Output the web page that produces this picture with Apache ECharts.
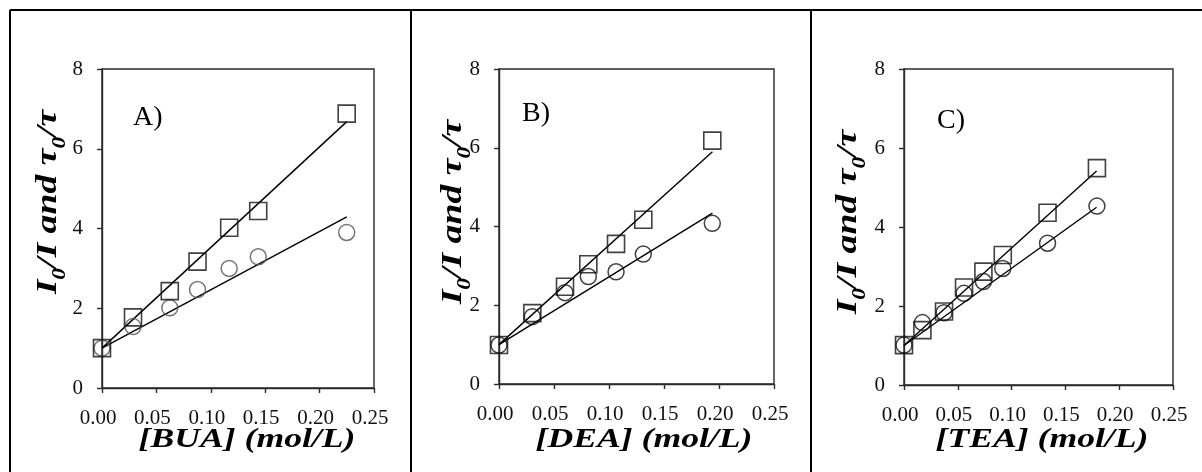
<!DOCTYPE html>
<html>
<head>
<meta charset="utf-8">
<script src="https://cdn.jsdelivr.net/npm/echarts@6/dist/echarts.min.js"></script>
<style>
  html, body { margin: 0; padding: 0; background: #fff; }
  #chart { width: 1202px; height: 472px; }
</style>
</head>
<body>
<div id="chart"></div>
<script>
// Stern–Volmer plots: I0/I (squares) and tau0/tau (circles) versus amine concentration

// Panel A: BUA
const buaConc      = [0, 0.0285, 0.0623, 0.0878, 0.1169, 0.1436, 0.2249];
const buaIntensity = [1.00, 1.77, 2.43, 3.17, 4.02, 4.44, 6.88];
const buaLifetime  = [1.00, 1.54, 2.01, 2.47, 3.00, 3.29, 3.90];
const buaFitIntensity = [[0, 1.0], [0.225, 6.68]];
const buaFitLifetime  = [[0, 1.0], [0.225, 4.29]];

// Panel B: DEA
const deaConc      = [0, 0.0303, 0.0600, 0.0812, 0.1064, 0.1312, 0.1939];
const deaIntensity = [0.99, 1.80, 2.47, 3.04, 3.56, 4.17, 6.18];
const deaLifetime  = [0.99, 1.71, 2.32, 2.73, 2.85, 3.30, 4.08];
const deaFitIntensity = [[0, 1.0], [0.194, 5.90]];
const deaFitLifetime  = [[0, 1.0], [0.194, 4.34]];

// Panel C: TEA
const teaConc      = [0, 0.0171, 0.0372, 0.0558, 0.0738, 0.0918, 0.1334, 0.1793];
const teaIntensity = [1.01, 1.39, 1.86, 2.47, 2.87, 3.29, 4.36, 5.49];
const teaLifetime  = [1.01, 1.58, 1.83, 2.32, 2.62, 2.95, 3.59, 4.53];
const teaFitIntensity = [[0, 1.0], [0.179, 5.42]];
const teaFitLifetime  = [[0, 1.0], [0.179, 4.50]];

const panelLetters = ['A)', 'B)', 'C)'];
const xTitles = ['[BUA] (mol/L)', '[DEA] (mol/L)', '[TEA] (mol/L)'];
const xTicks = { min: 0, max: 0.25, step: 0.05 };
const yTicks = { min: 0, max: 8, step: 2 };

const SERIF = '"Liberation Serif", "Times New Roman", serif';
const AXIS_COLOR = '#2a2a2a';

const panels = [
  { conc: buaConc, sq: buaIntensity, ci: buaLifetime, fitSq: buaFitIntensity, fitCi: buaFitLifetime,
    grid: { left: 102, top: 69, width: 272, height: 319 }, circleColor: '#555',
    letter: [133, 118], yTitle: [49, 202], xTitle: [247, 440] },
  { conc: deaConc, sq: deaIntensity, ci: deaLifetime, fitSq: deaFitIntensity, fitCi: deaFitLifetime,
    grid: { left: 499, top: 69, width: 275, height: 315 }, circleColor: '#111',
    letter: [522, 114], yTitle: [454, 212], xTitle: [644, 440] },
  { conc: teaConc, sq: teaIntensity, ci: teaLifetime, fitSq: teaFitIntensity, fitCi: teaFitLifetime,
    grid: { left: 904, top: 69, width: 269, height: 316 }, circleColor: '#111',
    letter: [937, 121], yTitle: [849, 222], xTitle: [1042, 440] }
];

const grids = [], xAxes = [], yAxes = [], series = [], graphics = [];

panels.forEach((p, i) => {
  grids.push(Object.assign({ show: true, borderColor: AXIS_COLOR, borderWidth: 1.4, backgroundColor: 'transparent' }, p.grid));

  xAxes.push({
    gridIndex: i, type: 'value', min: xTicks.min, max: xTicks.max, interval: xTicks.step,
    axisLine: { show: true, onZero: false, lineStyle: { color: AXIS_COLOR, width: 1.4 } },
    axisTick: { show: true, length: 5, lineStyle: { color: AXIS_COLOR, width: 1.4 } },
    splitLine: { show: false },
    axisLabel: {
      formatter: v => v.toFixed(2), fontFamily: SERIF, fontSize: 21, color: '#111',
      margin: 20, padding: [0, 8, 0, 0], showMinLabel: true, showMaxLabel: true
    }
  });

  yAxes.push({
    gridIndex: i, type: 'value', min: yTicks.min, max: yTicks.max, interval: yTicks.step,
    axisLine: { show: true, onZero: false, lineStyle: { color: AXIS_COLOR, width: 1.4 } },
    axisTick: { show: true, length: 5, lineStyle: { color: AXIS_COLOR, width: 1.4 } },
    splitLine: { show: false },
    axisLabel: { fontFamily: SERIF, fontSize: 21, color: '#111', margin: 19 }
  });

  const fitStyle = { color: '#000', width: 1.4 };
  series.push(
    { type: 'line', xAxisIndex: i, yAxisIndex: i, data: p.fitSq, symbol: 'none', silent: true, lineStyle: fitStyle, z: 2 },
    { type: 'line', xAxisIndex: i, yAxisIndex: i, data: p.fitCi, symbol: 'none', silent: true, lineStyle: fitStyle, z: 2 },
    { type: 'scatter', xAxisIndex: i, yAxisIndex: i, symbol: 'circle', symbolSize: 16, z: 3,
      data: p.conc.map((c, k) => [c, p.ci[k]]),
      itemStyle: { color: 'rgba(0,0,0,0)', borderColor: p.circleColor, borderWidth: 1.5 } },
    { type: 'scatter', xAxisIndex: i, yAxisIndex: i, symbol: 'rect', symbolSize: 17, z: 4,
      data: p.conc.map((c, k) => [c, p.sq[k]]),
      itemStyle: { color: 'rgba(0,0,0,0)', borderColor: '#111', borderWidth: 1.6 } }
  );

  // panel letter
  graphics.push({
    type: 'text', x: p.letter[0], y: p.letter[1], z: 10,
    style: { text: panelLetters[i], font: '28px ' + SERIF, fill: '#000', textAlign: 'left', textVerticalAlign: 'middle' }
  });

  // x-axis title
  graphics.push({
    type: 'text', x: p.xTitle[0], y: p.xTitle[1], scaleX: 1.32, z: 10,
    style: { text: xTitles[i], font: 'italic bold 27px ' + SERIF, fill: '#000', textAlign: 'center', textVerticalAlign: 'middle' }
  });

  // y-axis title with subscripts
  graphics.push({
    type: 'text', x: p.yTitle[0], y: p.yTitle[1], rotation: Math.PI / 2, scaleX: 1.3, z: 10,
    style: {
      text: '{m|I}{s|0}{m|/I and τ}{s|0}{m|/τ}',
      textAlign: 'center', textVerticalAlign: 'middle', fill: '#000',
      rich: {
        m: { fontFamily: SERIF, fontStyle: 'italic', fontWeight: 'bold', fontSize: 29, lineHeight: 40, fill: '#000', color: '#000' },
        s: { fontFamily: SERIF, fontStyle: 'italic', fontWeight: 'bold', fontSize: 18, lineHeight: 18, verticalAlign: 'bottom', fill: '#000', color: '#000' }
      }
    }
  });
});

// frame lines separating the three panels
const frameStyle = { stroke: '#000', lineWidth: 2 };
graphics.push(
  { type: 'line', shape: { x1: 10, y1: 10, x2: 1202, y2: 10 }, style: frameStyle },
  { type: 'line', shape: { x1: 10, y1: 10, x2: 10, y2: 472 }, style: frameStyle },
  { type: 'line', shape: { x1: 411, y1: 10, x2: 411, y2: 472 }, style: frameStyle },
  { type: 'line', shape: { x1: 811, y1: 10, x2: 811, y2: 472 }, style: frameStyle }
);

const chart = echarts.init(document.getElementById('chart'), null, { renderer: 'canvas' });
chart.setOption({
  animation: false,
  backgroundColor: '#fff',
  grid: grids,
  xAxis: xAxes,
  yAxis: yAxes,
  series: series,
  graphic: graphics
});
</script>
</body>
</html>
